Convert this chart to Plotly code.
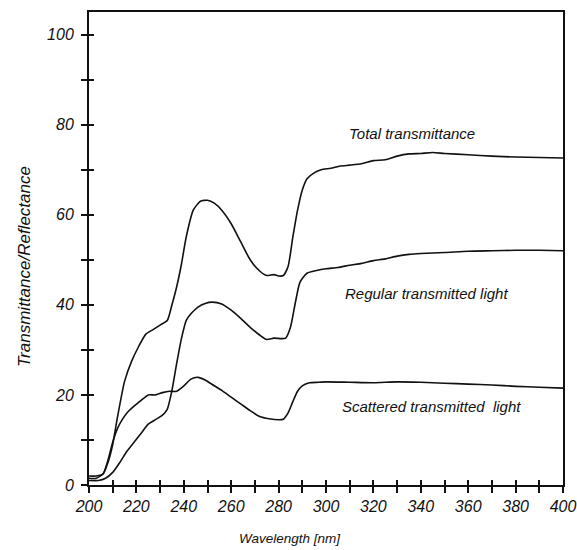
import plotly.graph_objects as go

wl_total = [200, 203, 206, 208, 210, 212, 215, 218, 221, 224, 227, 230, 233, 235, 237,
            239, 241, 244, 247, 250, 253, 256, 260, 264, 268, 272, 275, 278, 280, 282,
            284, 286, 288, 290, 292, 295, 298, 302, 306, 310, 315, 320, 325, 330, 335,
            340, 345, 350, 360, 370, 380, 390, 400]
total = [2, 2, 2.5, 5, 9, 15, 23, 27.5, 30.8, 33.5, 34.5, 35.5, 36.5, 40, 44,
         49, 55, 61, 63, 63.2, 62.5, 61, 58, 54, 50, 47.5, 46.5, 46.7, 46.4, 46.5,
         48.5, 55, 61, 65.5, 68, 69.3, 70, 70.3, 70.8, 71, 71.3, 72, 72.2, 73, 73.5,
         73.6, 73.8, 73.6, 73.3, 73, 72.8, 72.7, 72.6]

wl_regular = [200, 204, 207, 210, 213, 216, 219, 222, 225, 228, 231, 233, 235, 237, 239,
              241, 243, 246, 249, 252, 256, 260, 264, 268, 272, 275, 278, 281, 283, 285,
              287, 289, 292, 296, 300, 305, 310, 315, 320, 325, 330, 335, 340, 350, 360,
              370, 380, 390, 400]
regular = [1, 1, 1.5, 2.8, 5, 7.5, 9.5, 11.5, 13.5, 14.5, 15.5, 16.8, 21, 27, 32.5,
           36.5, 38, 39.5, 40.3, 40.6, 40.2, 38.8, 37, 35, 33.3, 32.3, 32.6, 32.5, 32.6, 35,
           40.3, 45, 47, 47.6, 48, 48.3, 48.8, 49.2, 49.8, 50.2, 50.8, 51.2, 51.4, 51.6, 51.9,
           52, 52.1, 52.1, 52]

wl_scattered = [200, 203, 206, 208, 210, 212, 214, 216, 219, 222, 225, 228, 231, 234, 237,
                240, 243, 246, 249, 252, 256, 260, 264, 268, 272, 276, 280, 282, 284, 286,
                288, 290, 293, 297, 300, 310, 320, 330, 340, 350, 360, 370, 380, 390, 400]
scattered = [1.5, 1.5, 2.5, 5.5, 9.5, 12.5, 14.5, 16, 17.5, 18.8, 20, 20, 20.5, 20.8, 20.8,
             22, 23.5, 23.9, 23.3, 22.3, 21, 19.5, 18, 16.5, 15.2, 14.7, 14.5, 14.6, 16, 18.5,
             20.8, 22, 22.7, 22.8, 22.9, 22.8, 22.7, 22.9, 22.8, 22.6, 22.4, 22.2, 21.9, 21.7, 21.5]

x_ticks = list(range(200, 401, 10))
x_ticktext = [str(v) if v % 20 == 0 else "" for v in x_ticks]
y_ticks = list(range(0, 101, 10))
y_ticktext = [str(v) if v % 20 == 0 else "" for v in y_ticks]

labels = ["Total transmittance", "Regular transmitted light", "Scattered transmitted  light"]
label_x = [347, 343, 340]
label_y = [78.0, 42.5, 17.5]

FONT = "Liberation Sans"
ink = "#111111"

fig = go.Figure()
for xs, ys in [(wl_total, total), (wl_regular, regular), (wl_scattered, scattered)]:
    fig.add_trace(go.Scatter(x=xs, y=ys, mode="lines",
                             line=dict(color=ink, width=1.6, shape="spline", smoothing=0.6),
                             showlegend=False, hoverinfo="skip"))
# invisible trace to activate the overlay axes (inside half of crossing ticks)
fig.add_trace(go.Scatter(x=[200], y=[0], xaxis="x2", yaxis="y2", mode="markers",
                         marker=dict(opacity=0), showlegend=False, hoverinfo="skip"))

px0, px1 = 89, 563
for t, lx, ly in zip(labels, label_x, label_y):
    fig.add_annotation(text=t, x=200 + (lx - px0) / (px1 - px0) * 200, y=ly,
                       xref="x", yref="y", xanchor="left", yanchor="middle",
                       showarrow=False,
                       font=dict(family=FONT, size=15, color=ink, style="italic"))

fig.add_annotation(text="Wavelength [nm]", xref="paper", yref="paper",
                   x=(290 - px0) / (px1 - px0), y=-(538 - 485) / 473,
                   xanchor="center", yanchor="middle",
                   showarrow=False,
                   font=dict(family=FONT, size=13.5, color=ink, style="italic"))
fig.add_annotation(text="Transmittance/Reflectance", xref="paper", yref="paper",
                   x=(24 - px0) / (px1 - px0), y=(485 - 267) / 473,
                   xanchor="center", yanchor="middle",
                   textangle=-90, showarrow=False,
                   font=dict(family=FONT, size=17, color=ink, style="italic"))

axis_common = dict(showgrid=False, zeroline=False, linecolor=ink, linewidth=2,
                   tickcolor=ink, tickwidth=1.5, automargin=False,
                   tickfont=dict(family=FONT, size=16, color=ink, style="italic"))

fig.update_layout(
    width=577, height=550,
    margin=dict(l=89, r=14, t=12, b=65, autoexpand=False),
    paper_bgcolor="white", plot_bgcolor="white",
    xaxis=dict(range=[200, 400], tickmode="array", tickvals=x_ticks, ticktext=x_ticktext,
               ticks="outside", ticklen=6, showline=True, mirror=True, **axis_common),
    yaxis=dict(range=[0, 105], tickmode="array", tickvals=y_ticks, ticktext=y_ticktext,
               ticks="outside", ticklen=6, showline=True, mirror=True,
               ticklabelstandoff=4, **axis_common),
    xaxis2=dict(range=[200, 400], overlaying="x", anchor="y2", side="bottom",
                tickmode="array", tickvals=x_ticks, ticks="inside", ticklen=5,
                showticklabels=False, showline=False, showgrid=False, zeroline=False,
                tickcolor=ink, tickwidth=1.5, automargin=False),
    yaxis2=dict(range=[0, 105], overlaying="y", anchor="x2", side="left",
                tickmode="array", tickvals=y_ticks, ticks="inside", ticklen=5,
                showticklabels=False, showline=False, showgrid=False, zeroline=False,
                tickcolor=ink, tickwidth=1.5, automargin=False),
)

fig.write_html("out.html")
